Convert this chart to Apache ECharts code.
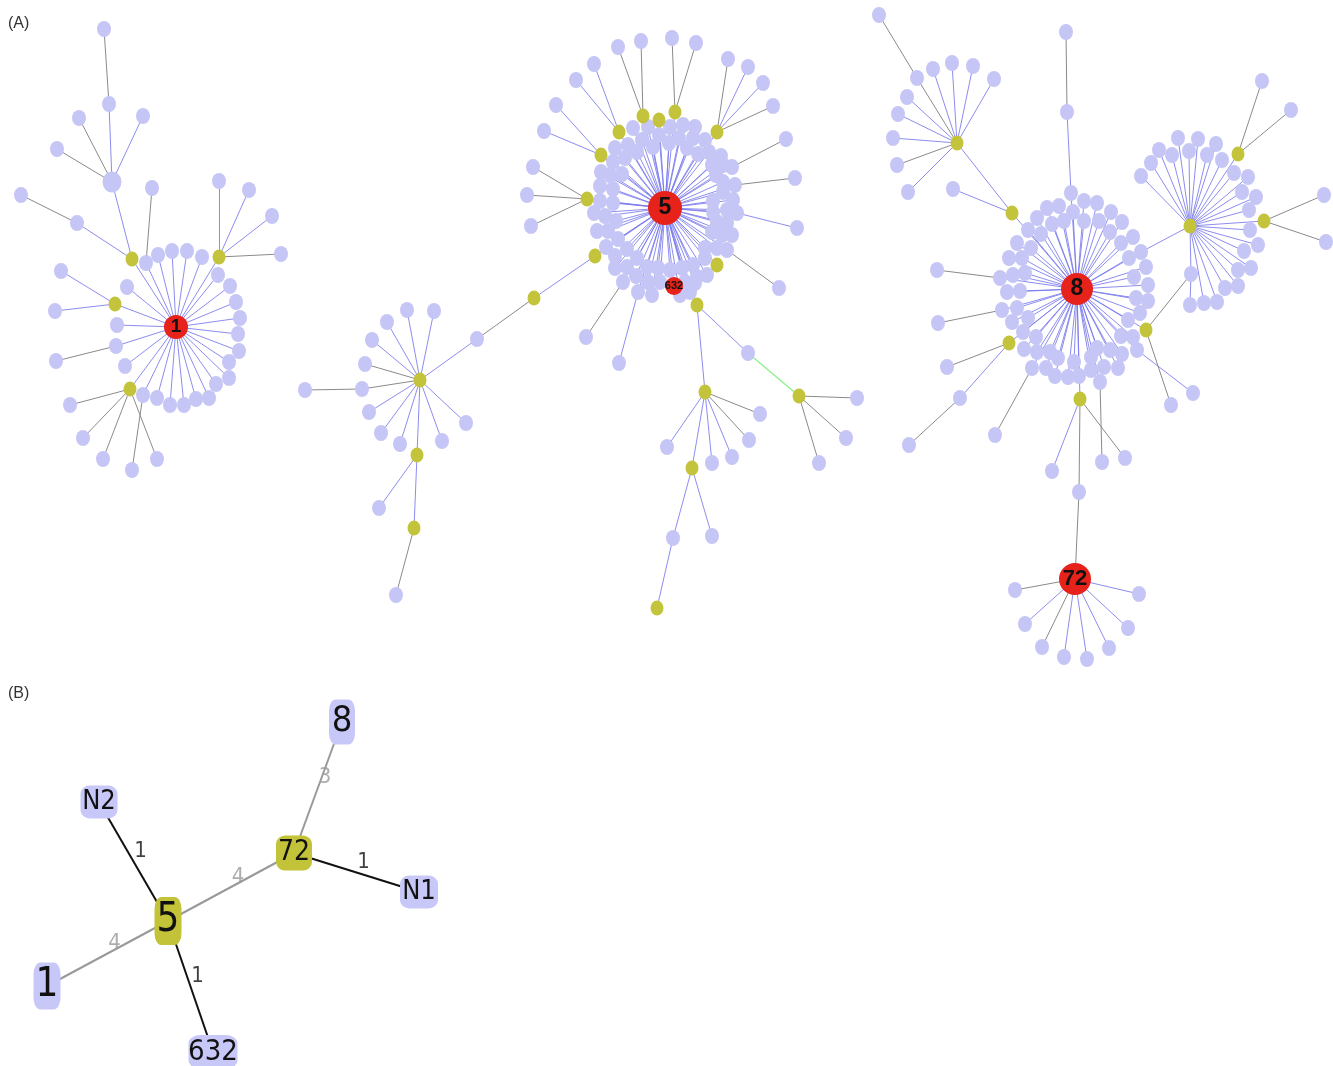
<!DOCTYPE html>
<html><head><meta charset="utf-8">
<script src="https://cdn.jsdelivr.net/npm/echarts@6/dist/echarts.min.js"></script>
<style>html,body{margin:0;padding:0;background:#fff}#c{width:1333px;height:1066px}</style>
</head><body><div id="c"></div><script>
// ---------- DATA ----------
// rows: [id, x, y, kind, parentId, edgeType, label]
// kind: L lavender, B big lavender, Y yellow, R red ; edge: b blue, g gray, G green
const clusterOne = [
 ['h1',176,327,'R',null,null,'1'],
 ['a2',109,104,'L','a3','b'],['a1',104,29,'L','a2','g'],
 ['a3',112,182,'B','y1','b'],['a4',79,118,'L','a3','g'],['a5',143,116,'L','a3','b'],['a6',57,149,'L','a3','g'],
 ['y1',132,259,'Y','h1','b'],['a8',77,223,'L','y1','b'],['a7',21,195,'L','a8','g'],
 ['a10',146,263,'L','h1','b'],['a9',152,188,'L','a10','g'],
 ['y2',219,257,'Y','h1','b'],['a13',219,181,'L','y2','b'],['a14',249,190,'L','y2','b'],['a15',272,216,'L','y2','b'],['a16',281,254,'L','y2','g'],
 ['y3',115,304,'Y','h1','b'],['a17',61,271,'L','y3','b'],['a18',55,311,'L','y3','b'],
 ['a11',116,346,'L','h1','b'],['a19',56,361,'L','a11','g'],
 ['y4',130,389,'Y','h1','b'],['a20',70,405,'L','y4','g'],['a21',83,438,'L','y4','g'],['a22',103,459,'L','y4','g'],['a23',157,459,'L','y4','g'],
 ['a12',143,395,'L','h1','b'],['a24',132,470,'L','a12','g']
];
const ringOne = [[127,287],[117,325],[125,366],[158,255],[172,251],[187,251],[202,257],[218,275],[230,286],[236,302],[240,318],[238,334],[239,351],[229,362],[229,378],[216,384],[209,398],[196,399],[184,405],[170,405],[157,398]];

const clusterFive = [
 ['h5',665,208,'R',null,null,'5'],
 ['n632',674,286,'R','h5','b','632'],
 ['p1',595,256,'Y','h5','b'],['p2',534,298,'Y','p1','b'],['p3',477,339,'L','p2','g'],
 ['s0',420,380,'Y','p3','b'],
 ['s1',407,310,'L','s0','b'],['s2',434,311,'L','s0','b'],['s3',387,322,'L','s0','b'],['s4',372,340,'L','s0','b'],
 ['s5',365,364,'L','s0','g'],['s6',362,389,'L','s0','g'],['s7',305,390,'L','s6','g'],
 ['s8',369,412,'L','s0','b'],['s9',381,433,'L','s0','b'],['s10',400,444,'L','s0','b'],['s11',442,441,'L','s0','b'],['s12',466,423,'L','s0','b'],
 ['s13',417,455,'Y','s0','b'],['s14',379,508,'L','s13','b'],['s15',414,528,'Y','s13','b'],['s16',396,595,'L','s15','g'],
 ['q1',643,116,'Y','h5','b'],['q1a',618,47,'L','q1','g'],['q1b',641,41,'L','q1','g'],
 ['q2',675,112,'Y','h5','b'],['q2a',672,38,'L','q2','g'],['q2b',696,43,'L','q2','g'],
 ['q3',659,120,'Y','h5','b'],
 ['q4',619,132,'Y','h5','b'],['q4a',594,64,'L','q4','b'],['q4b',576,80,'L','q4','b'],
 ['q5',601,155,'Y','h5','b'],['q5a',556,105,'L','q5','b'],['q5b',544,131,'L','q5','b'],
 ['q6',587,199,'Y','h5','b'],['q6a',533,167,'L','q6','g'],['q6b',527,195,'L','q6','g'],['q6c',531,226,'L','q6','g'],
 ['q7',717,132,'Y','h5','b'],['q7a',728,59,'L','q7','g'],['q7b',748,67,'L','q7','b'],['q7c',763,83,'L','q7','b'],['q7d',773,106,'L','q7','g'],
 ['q8',717,265,'Y','h5','b'],
 ['q9',697,305,'Y','h5','b'],
 ['r1',748,353,'L','q9','b'],['r2',799,396,'Y','r1','G'],['r2a',857,398,'L','r2','g'],['r2b',846,438,'L','r2','g'],['r2c',819,463,'L','r2','g'],
 ['r3',705,392,'Y','q9','b'],['r3a',760,414,'L','r3','g'],['r3b',749,440,'L','r3','g'],['r3c',732,457,'L','r3','b'],['r3d',712,463,'L','r3','b'],['r3e',667,447,'L','r3','b'],
 ['r4',692,468,'Y','r3','b'],['r4a',712,536,'L','r4','b'],['r5',673,538,'L','r4','b'],['r6',657,608,'Y','r5','b'],
 ['i1',732,167,'L','h5','b'],['i1a',786,139,'L','i1','g'],
 ['i2',735,185,'L','h5','b'],['i2a',795,178,'L','i2','g'],
 ['i3',737,213,'L','h5','b'],['i3a',797,228,'L','i3','b'],
 ['i4',727,250,'L','h5','b'],['i4a',779,288,'L','i4','g'],
 ['i5',623,282,'L','h5','b'],['i5a',586,337,'L','i5','g'],
 ['i6',638,292,'L','h5','b'],['i6a',619,363,'L','i6','b']
];
const ringFive = [[633,128],[648,127],[670,127],[683,125],[695,127],[642,140],[659,135],[669,143],[679,138],[693,138],[705,140],[628,145],[653,147],[615,148],[637,152],[687,148],[698,154],[709,152],[721,156],[613,162],[625,158],[712,165],[723,165],[601,172],[610,175],[622,174],[716,175],[723,182],[600,186],[613,189],[723,192],[733,200],[600,201],[613,203],[594,213],[605,216],[616,221],[713,201],[713,212],[727,210],[597,231],[608,231],[618,239],[717,222],[712,232],[727,223],[732,235],[722,235],[606,247],[627,249],[615,256],[705,248],[717,248],[615,268],[627,267],[637,258],[647,267],[658,268],[670,270],[682,268],[693,265],[705,258],[697,277],[707,275],[636,276],[648,282],[660,282],[685,282],[695,283],[652,295],[680,295],[690,292]];

const clusterEight = [
 ['h8',1077,289,'R',null,null,'8'],
 ['t1',1080,399,'Y','h8','b'],['t1a',1052,471,'L','t1','b'],['t1b',1125,458,'L','t1','g'],['t2',1079,492,'L','t1','g'],
 ['h72',1075,579,'R','t2','g','72'],
 ['m1',1015,590,'L','h72','g'],['m2',1025,624,'L','h72','b'],['m3',1042,647,'L','h72','g'],['m4',1064,657,'L','h72','b'],
 ['m5',1087,659,'L','h72','b'],['m6',1109,648,'L','h72','b'],['m7',1128,628,'L','h72','b'],['m8',1139,594,'L','h72','b'],
 ['k1',1100,382,'L','h8','b'],['k1a',1102,462,'L','k1','g'],
 ['u1',1012,213,'Y','h8','b'],['u1a',953,189,'L','u1','b'],
 ['u2',957,143,'Y','u1','b'],['u3',917,78,'L','u2','g'],['u3a',879,15,'L','u3','g'],
 ['u2a',933,69,'L','u2','b'],['u2b',952,63,'L','u2','b'],['u2c',973,66,'L','u2','b'],['u2d',994,79,'L','u2','b'],
 ['u2e',907,97,'L','u2','b'],['u2f',898,114,'L','u2','b'],['u2g',893,138,'L','u2','b'],['u2h',897,165,'L','u2','g'],['u2i',908,192,'L','u2','b'],
 ['v2',1071,193,'L','h8','b'],['v1',1067,112,'L','v2','b'],['v1a',1066,32,'L','v1','g'],
 ['w0',1141,252,'L','h8','b'],['w1',1190,226,'Y','w0','b'],
 ['w2',1238,154,'Y','w1','b'],['w2a',1262,81,'L','w2','g'],['w2b',1291,110,'L','w2','g'],
 ['w3',1264,221,'Y','w1','b'],['w3a',1324,195,'L','w3','g'],['w3b',1326,242,'L','w3','g'],
 ['w4',1191,274,'L','w1','b'],['w4a',1190,305,'L','w4','b'],
 ['x1',1146,330,'Y','h8','b'],['x1a',1171,405,'L','x1','g'],
 ['k2',1137,350,'L','h8','b'],['k2a',1193,393,'L','k2','b'],
 ['k3',1000,278,'L','h8','b'],['k3a',937,270,'L','k3','g'],
 ['k4',1002,310,'L','h8','b'],['k4a',938,323,'L','k4','g'],
 ['y8',1009,343,'Y','h8','b'],['y8a',947,367,'L','y8','g'],['y8b',960,398,'L','y8','b'],['y8c',909,445,'L','y8b','g'],
 ['k6',1032,368,'L','h8','b'],['k6a',995,435,'L','k6','g']
];
const extraLinksEight = [['w4','x1','g']];
const ringEight = [[1047,208],[1059,206],[1084,201],[1097,203],[1037,218],[1052,224],[1064,221],[1073,212],[1084,221],[1099,221],[1111,212],[1028,230],[1041,234],[1110,232],[1122,222],[1017,243],[1031,248],[1121,243],[1133,237],[1009,258],[1022,258],[1129,258],[1013,275],[1025,273],[1134,277],[1146,267],[1007,292],[1020,291],[1136,298],[1148,285],[1017,308],[1148,301],[1012,322],[1028,318],[1128,320],[1140,313],[1023,332],[1036,337],[1121,336],[1133,337],[1024,349],[1037,352],[1050,352],[1058,358],[1097,348],[1110,350],[1122,354],[1046,368],[1055,376],[1068,377],[1074,362],[1079,376],[1091,357],[1091,370],[1104,367],[1118,368]];
const sideEight = [[1178,138],[1198,139],[1216,144],[1159,150],[1172,155],[1189,151],[1207,155],[1151,163],[1222,160],[1141,176],[1234,173],[1248,177],[1242,192],[1256,197],[1249,210],[1250,230],[1258,245],[1244,251],[1251,268],[1238,270],[1238,286],[1225,288],[1217,302],[1204,303]];

// Panel B
const summaryNames = ['8','N2','72','N1','5','1','632'];
const summaryX = [342,99,294,419,168,47,213];
const summaryY = [722,802,853,892,921,986,1052];
const summaryKind = ['L','L','Y','L','Y','L','L'];
const summaryLinks = [['8','72','3','gray'],['N2','5','1','black'],['72','N1','1','black'],['5','72','4','gray'],['1','5','4','gray'],['5','632','1','black']];

// ---------- STYLES ----------
const NODE_COLOR = {L:'#c6c6f6', B:'#c6c6f6', Y:'#c4c43c', R:'#e6221a'};
const NODE_SIZE = {L:[14,16], B:[19,21], Y:[13,15]};
const HUB_SIZE = {'1':24,'5':34,'8':32,'72':32,'632':18};
const HUB_FONT = {'1':19,'5':23,'8':23,'72':22,'632':11};
const EDGE_COLOR = {b:'rgba(120,120,236,0.85)', g:'#8a8a8a', G:'#8cf08c'};
const BOX_SIZE = {'8':[26,45],'N2':[37,33],'72':[36,35],'N1':[38,33],'5':[27,48],'1':[27,47],'632':[49,34]};
const BOX_FONT = {'8':36,'N2':27,'72':28,'N1':27,'5':40,'1':40,'632':29};
const BOX_COLOR = {L:'#c8c8f8', Y:'#c3c33a'};
const LINK_COLOR = {gray:'#999999', black:'#111111'};

// ---------- BUILD ----------
const nodesA = [], linksA = [];
function addRows(rows){
  rows.forEach(r => {
    const [id,x,y,kind,parent,edge,label] = r;
    nodesA.push({id, x, y, kind, label});
    if (parent) linksA.push([parent, id, edge]);
  });
}
function addRing(points, hub, prefix){
  points.forEach((p,i) => {
    const id = prefix + i;
    nodesA.push({id, x:p[0], y:p[1], kind:'L'});
    linksA.push([hub, id, 'b']);
  });
}
addRows(clusterOne); addRing(ringOne,'h1','ro');
addRows(clusterFive); addRing(ringFive,'h5','rf');
addRows(clusterEight); addRing(ringEight,'h8','re'); addRing(sideEight,'w1','se');
extraLinksEight.forEach(l => linksA.push(l));

const order = {L:0,B:0,Y:1,R:2};
nodesA.sort((a,b) => order[a.kind]-order[b.kind]);

const graphAData = nodesA.map(n => {
  const isHub = n.kind === 'R';
  const item = {
    name: n.id, value: [n.x, n.y],
    symbol: 'circle',
    symbolSize: isHub ? HUB_SIZE[n.label] : NODE_SIZE[n.kind],
    itemStyle: {color: NODE_COLOR[n.kind]},
    label: {show: false}
  };
  if (isHub) item.label = {show:true, position:'inside', formatter:n.label, color:'#111',
    fontSize: HUB_FONT[n.label], fontWeight:'bold', fontFamily:'Liberation Sans, Arial, sans-serif'};
  return item;
});
const graphALinks = linksA.map(l => ({source:l[0], target:l[1], lineStyle:{color:EDGE_COLOR[l[2]], width: l[2]==='G'?1.3:1, opacity:1}}));

const graphBData = summaryNames.map((n,i) => ({
  name: n, value: [summaryX[i], summaryY[i]],
  symbol: 'roundRect', symbolSize: BOX_SIZE[n],
  itemStyle: {color: BOX_COLOR[summaryKind[i]]},
  label: {show:true, position:'inside', formatter:n, color:'#111', fontSize: BOX_FONT[n],
    fontFamily:'DejaVu Sans Condensed, DejaVu Sans, sans-serif'}
}));
const graphBLinks = summaryLinks.map(l => ({source:l[0], target:l[1], lineStyle:{color:LINK_COLOR[l[3]], width:2, opacity:1}}));
const posOf = n => { const i = summaryNames.indexOf(n); return [summaryX[i], summaryY[i]]; };
const edgeLabelData = summaryLinks.map(l => {
  const a = posOf(l[0]), b = posOf(l[1]);
  return {value:[(a[0]+b[0])/2, (a[1]+b[1])/2], label:{formatter:l[2], color:LINK_COLOR[l[3]]}};
});

const option = {
  animation: false,
  grid: {left:0, right:0, top:0, bottom:0},
  xAxis: {type:'value', min:0, max:1333, show:false},
  yAxis: {type:'value', min:0, max:1066, inverse:true, show:false},
  graphic: [
    {type:'text', left:8, top:16, style:{text:'(A)', font:'16px "Liberation Sans", Arial, sans-serif', fill:'#333'}},
    {type:'text', left:8, top:686, style:{text:'(B)', font:'16px "Liberation Sans", Arial, sans-serif', fill:'#333'}}
  ],
  series: [
    {type:'graph', coordinateSystem:'cartesian2d', layout:'none', silent:true,
     data: graphAData, links: graphALinks, emphasis:{disabled:true}, z:2},
    {type:'graph', coordinateSystem:'cartesian2d', layout:'none', silent:true,
     data: graphBData, links: graphBLinks, emphasis:{disabled:true}, z:2},
    {type:'scatter', symbolSize:0, silent:true, z:5, data: edgeLabelData,
     label:{show:true, position:'inside', offset:[7,-10], fontSize:22,
       fontFamily:'DejaVu Sans Condensed, DejaVu Sans, sans-serif'}}
  ]
};
const chart = echarts.init(document.getElementById('c'), null, {renderer:'canvas'});
chart.setOption(option);
</script></body></html>
